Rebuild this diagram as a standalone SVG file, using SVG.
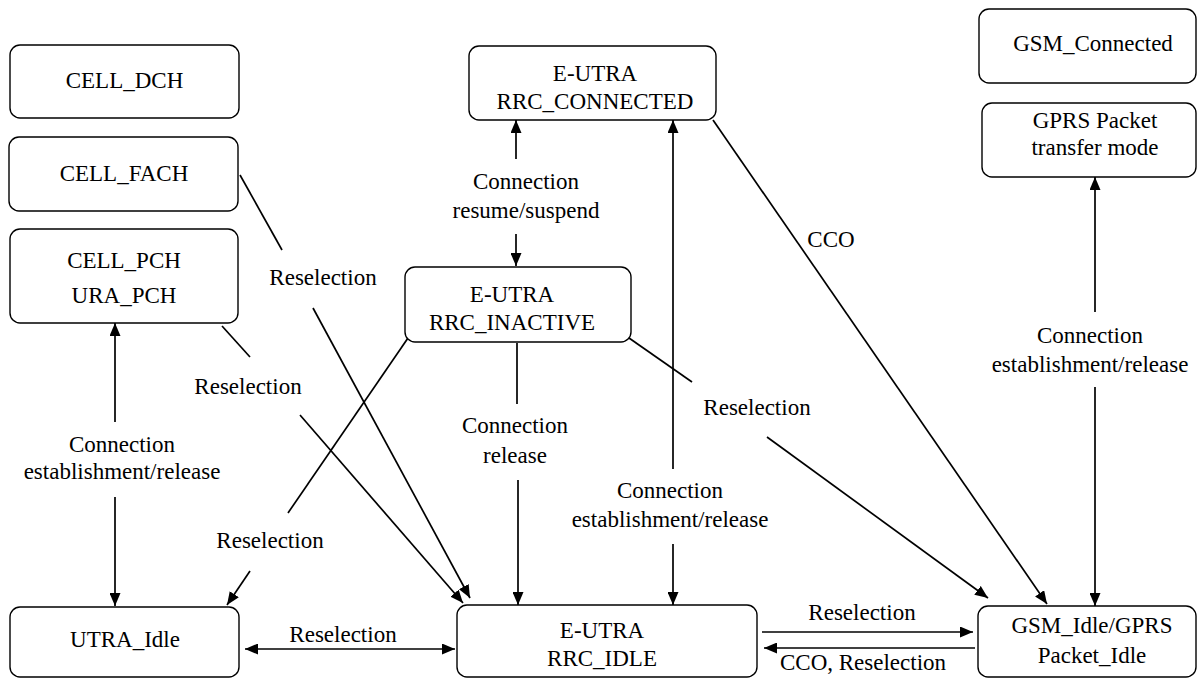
<svg xmlns="http://www.w3.org/2000/svg" width="1199" height="679" viewBox="0 0 1199 679">
<style>
  .box { fill: #ffffff; stroke: #000000; stroke-width: 1.4; }
  .t { font-family: "Liberation Serif", "Times New Roman", "DejaVu Serif", serif; font-size: 23px; fill: #000000; text-anchor: middle; }
  .c { stroke: #000000; stroke-width: 1.7; fill: none; }
  .a { marker-end: url(#ah); }
  .s { marker-start: url(#ah); }
</style>
<defs>
  <marker id="ah" viewBox="0 0 13 11" refX="13" refY="5.5" markerWidth="13" markerHeight="11" markerUnits="userSpaceOnUse" orient="auto-start-reverse">
    <path d="M0,0 L13,5.5 L0,11 z" fill="#000000"/>
  </marker>
</defs>
<rect width="1199" height="679" fill="#ffffff"/>

<g id="connectors">
  <!-- CELL_PCH <-> UTRA_Idle -->
  <line class="c s" x1="115" y1="323" x2="115" y2="422"/>
  <line class="c a" x1="115" y1="497" x2="115" y2="606"/>
  <text class="t" x="122" y="452">Connection</text>
  <text class="t" x="122" y="479">establishment/release</text>

  <!-- CELL_FACH -> RRC_IDLE -->
  <line class="c" x1="240" y1="175" x2="282" y2="250"/>
  <line class="c a" x1="313" y1="308" x2="470" y2="598"/>
  <text class="t" x="323" y="285">Reselection</text>

  <!-- CELL_PCH -> RRC_IDLE -->
  <line class="c" x1="222" y1="326" x2="250" y2="357"/>
  <line class="c a" x1="300" y1="415" x2="463" y2="603"/>
  <text class="t" x="248" y="394">Reselection</text>

  <!-- RRC_INACTIVE -> UTRA_Idle -->
  <line class="c" x1="408" y1="338" x2="288" y2="513"/>
  <line class="c a" x1="250" y1="571" x2="227" y2="605"/>
  <text class="t" x="270" y="548">Reselection</text>

  <!-- RRC_CONNECTED <-> RRC_INACTIVE -->
  <line class="c s" x1="516" y1="120" x2="516" y2="159"/>
  <line class="c a" x1="516" y1="234" x2="516" y2="266"/>
  <text class="t" x="526" y="189">Connection</text>
  <text class="t" x="526" y="218">resume/suspend</text>

  <!-- RRC_INACTIVE -> RRC_IDLE -->
  <line class="c" x1="517" y1="343" x2="517" y2="404"/>
  <line class="c a" x1="518" y1="480" x2="518" y2="605"/>
  <text class="t" x="515" y="433">Connection</text>
  <text class="t" x="515" y="463">release</text>

  <!-- RRC_CONNECTED <-> RRC_IDLE -->
  <line class="c s" x1="673" y1="120" x2="673" y2="469"/>
  <line class="c a" x1="673" y1="544" x2="673" y2="605"/>
  <text class="t" x="670" y="498">Connection</text>
  <text class="t" x="670" y="527">establishment/release</text>

  <!-- RRC_INACTIVE -> GSM_Idle -->
  <line class="c" x1="629" y1="338" x2="692" y2="382"/>
  <line class="c a" x1="767" y1="437" x2="988" y2="598"/>
  <text class="t" x="757" y="415">Reselection</text>

  <!-- RRC_CONNECTED -> GSM_Idle (CCO) -->
  <line class="c a" x1="713" y1="120" x2="1047" y2="604"/>
  <text class="t" x="831" y="247">CCO</text>

  <!-- GPRS <-> GSM_Idle -->
  <line class="c s" x1="1095" y1="177" x2="1095" y2="312"/>
  <line class="c a" x1="1095" y1="387" x2="1095" y2="606"/>
  <text class="t" x="1090" y="343">Connection</text>
  <text class="t" x="1090" y="372">establishment/release</text>

  <!-- UTRA_Idle <-> RRC_IDLE -->
  <line class="c s a" x1="245" y1="649" x2="455" y2="649"/>
  <text class="t" x="343" y="642">Reselection</text>

  <!-- RRC_IDLE -> GSM_Idle -->
  <line class="c a" x1="762" y1="632" x2="973" y2="632"/>
  <text class="t" x="862" y="620">Reselection</text>

  <!-- GSM_Idle -> RRC_IDLE -->
  <line class="c a" x1="975" y1="648" x2="764" y2="648"/>
  <text class="t" x="863" y="670">CCO, Reselection</text>
</g>

<g id="cell_dch">
  <rect class="box" x="10" y="45" width="229" height="73" rx="10"/>
  <text class="t" x="124.5" y="88">CELL_DCH</text>
</g>
<g id="cell_fach">
  <rect class="box" x="9" y="137" width="229" height="74" rx="10"/>
  <text class="t" x="124" y="181">CELL_FACH</text>
</g>
<g id="cell_pch">
  <rect class="box" x="10" y="229" width="228" height="94" rx="10"/>
  <text class="t" x="124" y="268">CELL_PCH</text>
  <text class="t" x="124" y="303">URA_PCH</text>
</g>
<g id="rrc_connected">
  <rect class="box" x="469" y="46" width="247" height="74" rx="10"/>
  <text class="t" x="595" y="81">E-UTRA</text>
  <text class="t" x="595" y="109">RRC_CONNECTED</text>
</g>
<g id="rrc_inactive">
  <rect class="box" x="405" y="267" width="226" height="75" rx="10"/>
  <text class="t" x="512" y="302">E-UTRA</text>
  <text class="t" x="512" y="330">RRC_INACTIVE</text>
</g>
<g id="gsm_connected">
  <rect class="box" x="979" y="9" width="217" height="74" rx="10"/>
  <text class="t" x="1093" y="51">GSM_Connected</text>
</g>
<g id="gprs_transfer">
  <rect class="box" x="982" y="103" width="214" height="74" rx="10"/>
  <text class="t" x="1095" y="128">GPRS Packet</text>
  <text class="t" x="1095" y="155">transfer mode</text>
</g>
<g id="utra_idle">
  <rect class="box" x="10" y="607" width="229" height="70" rx="10"/>
  <text class="t" x="125" y="647">UTRA_Idle</text>
</g>
<g id="rrc_idle">
  <rect class="box" x="457" y="605" width="300" height="72" rx="10"/>
  <text class="t" x="602" y="638">E-UTRA</text>
  <text class="t" x="602" y="666">RRC_IDLE</text>
</g>
<g id="gsm_idle">
  <rect class="box" x="978" y="606" width="218" height="71" rx="10"/>
  <text class="t" x="1092" y="633">GSM_Idle/GPRS</text>
  <text class="t" x="1092" y="663">Packet_Idle</text>
</g>
</svg>
